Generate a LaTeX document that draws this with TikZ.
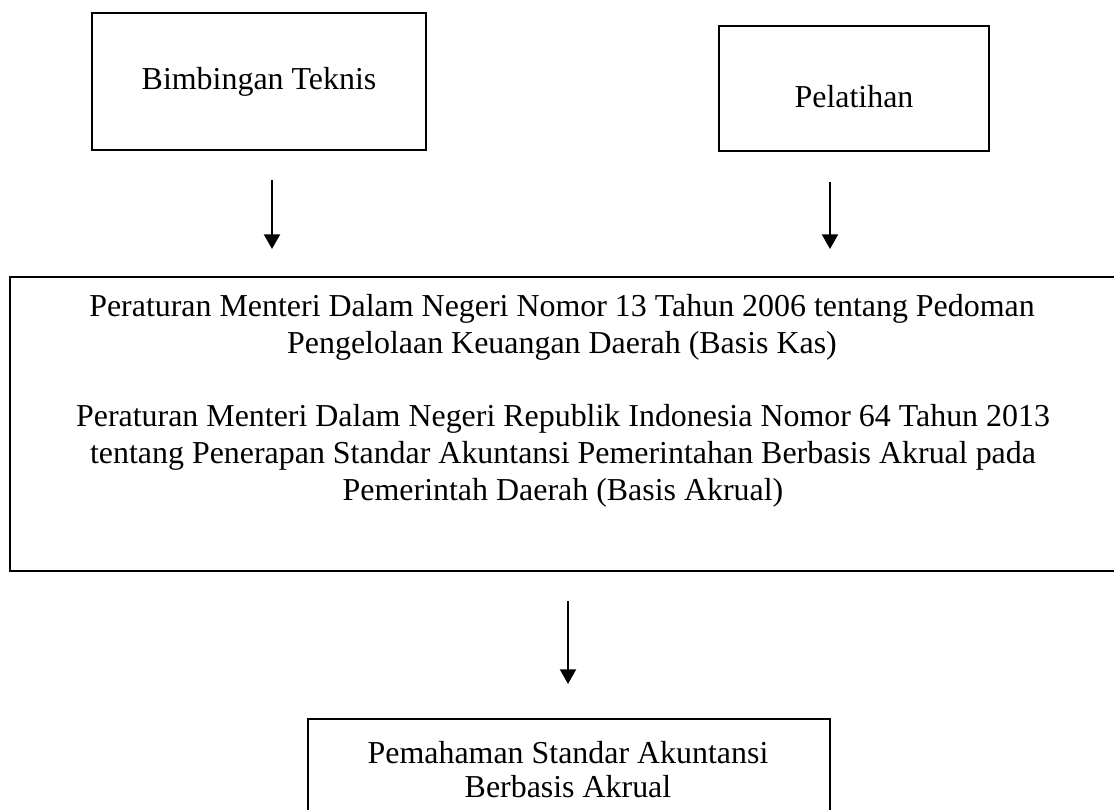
\documentclass[tikz,border=0pt]{standalone}
\usepackage{fontspec}
\setmainfont{Liberation Serif}
\usetikzlibrary{arrows.meta, fit}

\begin{document}
\begin{tikzpicture}[x = 0.3759pt, y = -0.3759pt, > = {Triangle[length = 5.5pt, width = 6pt]}, font = \fontsize{12}{13.9}\selectfont,
	box/.style = {draw, line width = 0.6pt, inner sep = 0pt},
	txt/.style = {align = center, inner sep = 0pt},
	flow/.style = {->, line width = 0.8pt}]

	% Page frame
	
	\clip (0, 0) rectangle (1114, 810);
	
	% Draw boxes
	
	\node [box, fit = {(92, 13) (426, 150)}] (bimtek) {};
	\node [box, fit = {(719, 26) (989, 151)}] (latihan) {};
	\node [box, line width = 1pt, fit = {(10, 277) (1117, 571)}] (permen) {};
	\node [box, fit = {(308, 719) (830, 840)}] (paham) {};
	
	% Texts
	
	\node [txt] (bimtek text) at (259, 82) {Bimbingan Teknis};
	\node [txt] (latihan text) at (854, 97) {Pelatihan};
	\node [txt] (kas) at (562, 327) {Peraturan Menteri Dalam Negeri Nomor 13 Tahun 2006 tentang Pedoman\\ Pengelolaan Keuangan Daerah (Basis Kas)};
	\node [txt] (akrual) at (563, 456) {Peraturan Menteri Dalam Negeri Republik Indonesia Nomor 64 Tahun 2013\\ tentang Penerapan Standar Akuntansi Pemerintahan Berbasis Akrual pada\\ Pemerintah Daerah (Basis Akrual)};
	\node [txt, font = \fontsize{12}{12.8}\selectfont] (paham text) at (568, 770) {Pemahaman Standar Akuntansi\\ Berbasis Akrual};
	
	% Draw arrows
	
	\coordinate (bimtek out) at (272, 180);
	\coordinate (latihan out) at (830, 182);
	\coordinate (permen out) at (568, 601);
	
	\coordinate (permen in 1) at (272, 249);
	\coordinate (permen in 2) at (830, 249);
	\coordinate (paham in) at (568, 684);
	
	\draw [flow] (bimtek out) -- (permen in 1);
	\draw [flow] (latihan out) -- (permen in 2);
	\draw [flow] (permen out) -- (paham in);
	
\end{tikzpicture}
\end{document}
